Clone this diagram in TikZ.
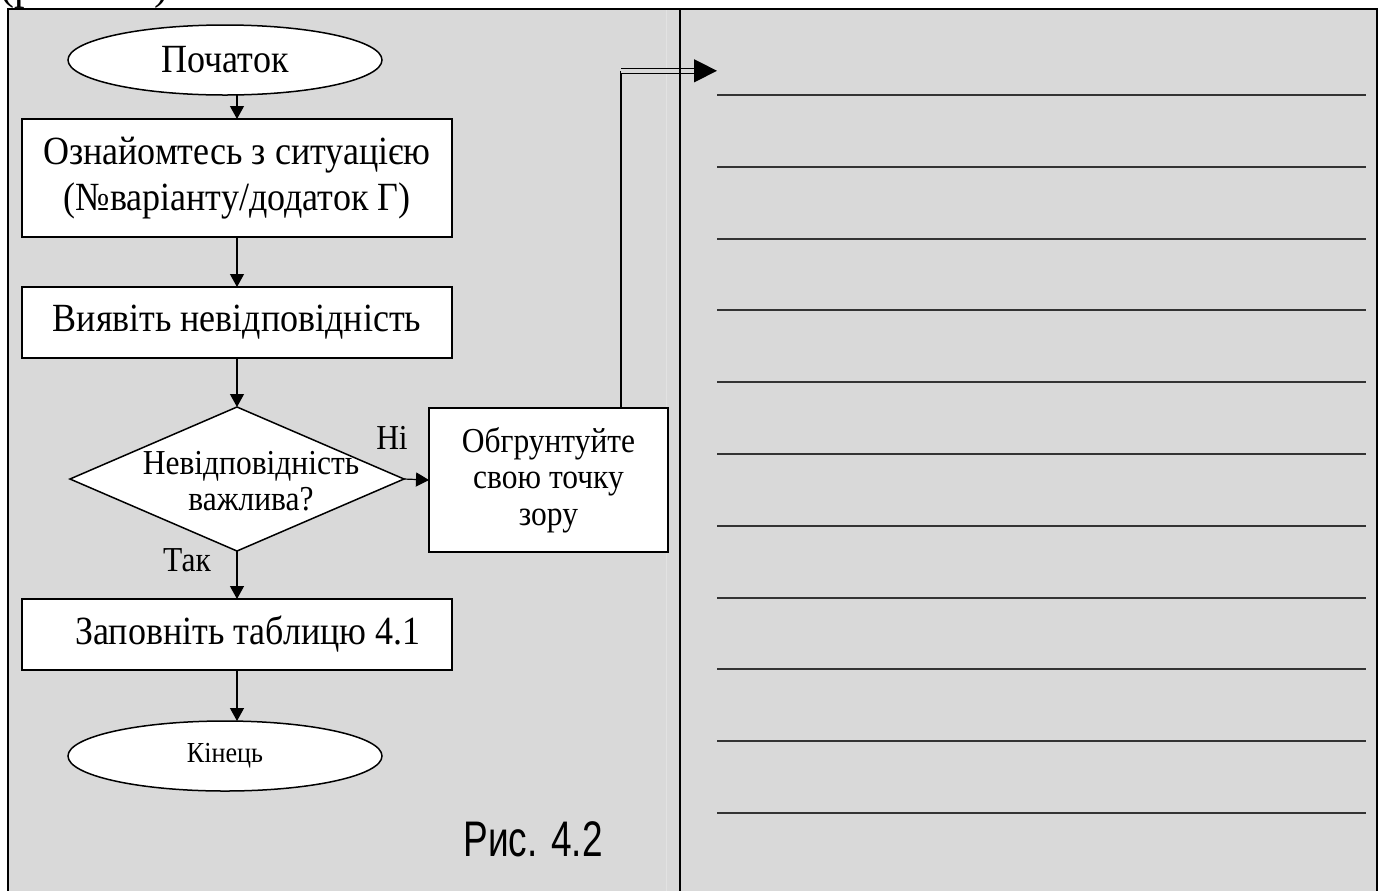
\documentclass[tikz,border=0pt]{standalone}
\usepackage{fontspec}
\setmainfont{Liberation Serif}
\newfontfamily\narrow{Liberation Serif}[FakeStretch=0.9]
\newfontfamily\capfont{Liberation Sans}[FakeStretch=0.74]
\usetikzlibrary{shapes.geometric,arrows.meta}
\definecolor{panel}{RGB}{217,217,217}
\definecolor{seam}{RGB}{226,226,226}
\begin{document}
\begin{tikzpicture}[x=0.5pt,y=-0.5pt,
  every node/.style={inner sep=0pt, outer sep=0pt},
  stepbox/.style={draw, fill=white, line width=0.75pt, minimum width=215pt,
    align=center, font=\narrow\fontsize{20}{23}\selectfont},
  term/.style={draw, fill=white, ellipse, line width=0.75pt,
    minimum width=157pt, minimum height=35pt},
  flow/.style={line width=0.6pt, -{Triangle[length=6.5pt,width=7pt]}},
  link/.style={line width=0.6pt},
  rule/.style={line width=1pt, draw=black!80},
  lbl/.style={font=\narrow\fontsize{17.5}{18}\selectfont}
]
\useasboundingbox (0,0) rectangle (1381,890);
\begin{scope}
\clip (0,0) rectangle (1381,890);

% tail of the text line above the frame
\node[anchor=base west, font=\fontsize{21}{21}\selectfont] (prev) at (1,-1) {(рис. 4.2)};

% grey panel with its frame
\fill[panel] (8,9) rectangle (1377,900);
\draw[seam, line width=0.5pt] (666,10) -- (666,900);
\draw[line width=1.25pt] (8,900) -- (8,9) -- (1377,9) -- (1377,900);

% flowchart nodes
\node[term, font=\narrow\fontsize{20}{20}\selectfont] (start) at (225,60) {Початок};
\node[stepbox, minimum height=59pt] (read) at (237,178) {Ознайомтесь з ситуацією\\(№варіанту/додаток Г)};
\node[stepbox, minimum height=35.5pt] (find) at (237,322.5) {Виявіть невідповідність};
\node[diamond, draw, fill=white, line width=0.75pt, minimum width=167pt,
      minimum height=72pt, aspect=2.32] (dec) at (237,479) {};
\node[lbl, align=center] (dectext) at (251,481) {Невідповідність\\важлива?};
\node[stepbox, minimum width=119.5pt, minimum height=72pt,
      font=\narrow\fontsize{17.5}{18.25}\selectfont] (argue) at (548.5,480) {Обгрунтуйте\\свою точку\\зору};
\node[stepbox, minimum height=35.5pt] (fill) at (237,634.5) {\hspace*{11pt}Заповніть таблицю 4.1};
\node[term, font=\narrow\fontsize{14.5}{14.5}\selectfont] (end) at (225,756) {Кінець};
\node[lbl] (no) at (392,438) {Ні};
\node[lbl] (yes) at (187,560) {Так};
\node[font=\capfont\fontsize{25}{25}\selectfont] (cap) at (533,839) {Рис. 4.2};

% connectors
\draw[flow] (read.north |- start.south) -- (read.north);
\draw[flow] (read.south) -- (find.north);
\draw[flow] (find.south) -- (dec.north);
\draw[flow] (dec.south) -- (fill.north);
\draw[flow] (fill.south) -- (fill.south |- end.north);
\draw[flow] (dec.east) -- (argue.west);

\coordinate (bend) at (621,70.8);
\coordinate (tipbase) at (694,70.8);
\coordinate (target) at (717,70.8);
\draw[link] (argue.north -| bend) -- (bend);
\draw[link, double=panel, double distance=1.9pt] (bend) -- (tipbase);
\draw[link, -{Triangle[length=11.5pt,width=11.5pt]}] (tipbase) -- (target);

% divider between the two halves
\draw[line width=1pt] (680,9) -- (680,900);

% ruled lines for the answer
\foreach \k in {0,...,10}
  \draw[rule] (717,95+71.8*\k) -- (1366,95+71.8*\k);
\end{scope}
\end{tikzpicture}
\end{document}
